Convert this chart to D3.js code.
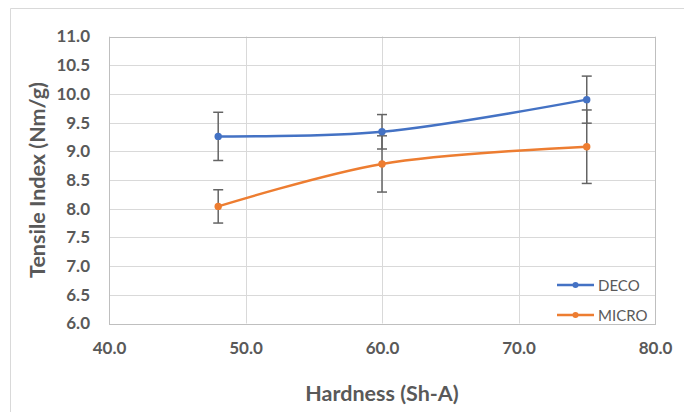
<!DOCTYPE html>
<html>
<head>
<meta charset="utf-8">
<script src="https://cdn.jsdelivr.net/npm/d3@7"></script>
<style>
  html, body { margin: 0; padding: 0; background: #fff; }
  svg { display: block; font-family: Lato, "Open Sans", sans-serif; }
</style>
</head>
<body>
<svg id="chart" width="684" height="412"></svg>
<script>
// Hardness (Sh-A) on x, tensile index on y
const hardness = [48, 60, 75];
const decoValues = [9.26, 9.34, 9.90];
const decoErrors = [0.42, 0.30, 0.41];
const microValues = [8.04, 8.78, 9.08];
const microErrors = [0.29, 0.49, 0.64];
const xTicks = [40, 50, 60, 70, 80];
const yTicks = [6.0, 6.5, 7.0, 7.5, 8.0, 8.5, 9.0, 9.5, 10.0, 10.5, 11.0];
const seriesNames = ["DECO", "MICRO"];
const seriesColors = ["#4472C4", "#ED7D31"];

const svg = d3.select("#chart");
const plot = { left: 109, right: 655, top: 36.5, bottom: 323.5 };

const x = d3.scaleLinear().domain([40, 80]).range([plot.left, plot.right]);
const y = d3.scaleLinear().domain([6, 11]).range([plot.bottom, plot.top]);

// outer chart frame (top and left edges)
svg.append("path")
  .attr("d", "M10.5,412 L10.5,8.5 L684,8.5")
  .attr("fill", "none").attr("stroke", "#d9d9d9").attr("stroke-width", 1);

// gridlines
const grid = svg.append("g");
grid.selectAll("line.h").data(yTicks).join("line")
  .attr("x1", plot.left).attr("x2", plot.right)
  .attr("y1", d => Math.round(y(d)) + 0.5).attr("y2", d => Math.round(y(d)) + 0.5)
  .attr("stroke", "#d9d9d9").attr("stroke-width", 1);
grid.selectAll("line.v").data(xTicks).join("line")
  .attr("y1", plot.top).attr("y2", plot.bottom)
  .attr("x1", d => Math.round(x(d)) + 0.5).attr("x2", d => Math.round(x(d)) + 0.5)
  .attr("stroke", "#d9d9d9").attr("stroke-width", 1);

// plot frame
svg.append("rect")
  .attr("x", plot.left + 0.5).attr("y", Math.round(plot.top) + 0.5)
  .attr("width", plot.right - plot.left).attr("height", Math.round(plot.bottom) - Math.round(plot.top))
  .attr("fill", "none").attr("stroke", "#bfbfbf").attr("stroke-width", 1);

// axes via d3 axis generators, styled as plain labels
const yAxis = svg.append("g")
  .attr("transform", `translate(${plot.left},0)`)
  .call(d3.axisLeft(y).tickValues(yTicks).tickFormat(d3.format(".1f")).tickSize(0).tickPadding(19));
const xAxis = svg.append("g")
  .attr("transform", `translate(0,${plot.bottom})`)
  .call(d3.axisBottom(x).tickValues(xTicks).tickFormat(d3.format(".1f")).tickSize(0).tickPadding(18));
[yAxis, xAxis].forEach(a => {
  a.select(".domain").remove();
  a.selectAll("text")
    .attr("fill", "#595959")
    .style("font-family", "Lato, 'Open Sans', sans-serif")
    .style("font-size", "17px")
    .style("font-weight", "bold");
});

// axis titles
svg.append("text")
  .attr("x", 382).attr("y", 401)
  .attr("text-anchor", "middle")
  .attr("fill", "#595959")
  .style("font-size", "21.5px").style("font-weight", "bold")
  .text("Hardness (Sh-A)");
svg.append("text")
  .attr("transform", "translate(45,180) rotate(-90)")
  .attr("text-anchor", "middle")
  .attr("fill", "#595959")
  .style("font-size", "21.5px").style("font-weight", "bold")
  .text("Tensile Index (Nm/g)");

const series = [
  { name: seriesNames[0], color: seriesColors[0], values: decoValues, errors: decoErrors },
  { name: seriesNames[1], color: seriesColors[1], values: microValues, errors: microErrors }
];

const line = d3.line()
  .x(d => x(d.h)).y(d => y(d.v))
  .curve(d3.curveCatmullRom.alpha(0.5));

// smoothed lines
series.forEach(s => {
  const pts = hardness.map((h, i) => ({ h, v: s.values[i], e: s.errors[i] }));
  svg.append("path")
    .datum(pts)
    .attr("d", line)
    .attr("fill", "none")
    .attr("stroke", s.color)
    .attr("stroke-width", 2.5)
    .attr("stroke-linecap", "round");
});

// error bars
series.forEach(s => {
  const pts = hardness.map((h, i) => ({ h, v: s.values[i], e: s.errors[i] }));
  const g = svg.append("g").attr("stroke", "#646464").attr("stroke-width", 1.5);
  g.selectAll("line.stem").data(pts).join("line")
    .attr("x1", d => x(d.h)).attr("x2", d => x(d.h))
    .attr("y1", d => y(d.v + d.e)).attr("y2", d => y(d.v - d.e));
  g.selectAll("line.top").data(pts).join("line")
    .attr("x1", d => x(d.h) - 5).attr("x2", d => x(d.h) + 5)
    .attr("y1", d => y(d.v + d.e)).attr("y2", d => y(d.v + d.e));
  g.selectAll("line.bot").data(pts).join("line")
    .attr("x1", d => x(d.h) - 5).attr("x2", d => x(d.h) + 5)
    .attr("y1", d => y(d.v - d.e)).attr("y2", d => y(d.v - d.e));
});

// markers
series.forEach(s => {
  svg.append("g").selectAll("circle")
    .data(hardness.map((h, i) => ({ h, v: s.values[i] })))
    .join("circle")
    .attr("cx", d => x(d.h)).attr("cy", d => y(d.v))
    .attr("r", 3.7)
    .attr("fill", s.color);
});

// legend
const legend = svg.append("g");
series.forEach((s, i) => {
  const ly = 285 + i * 30;
  legend.append("line")
    .attr("x1", 557).attr("x2", 594).attr("y1", ly).attr("y2", ly)
    .attr("stroke", s.color).attr("stroke-width", 2.5);
  legend.append("circle")
    .attr("cx", 575.5).attr("cy", ly).attr("r", 3).attr("fill", s.color);
  legend.append("text")
    .attr("x", 598).attr("y", ly + 5.5)
    .attr("fill", "#595959")
    .style("font-size", "15px")
    .text(s.name);
});
</script>
</body>
</html>
